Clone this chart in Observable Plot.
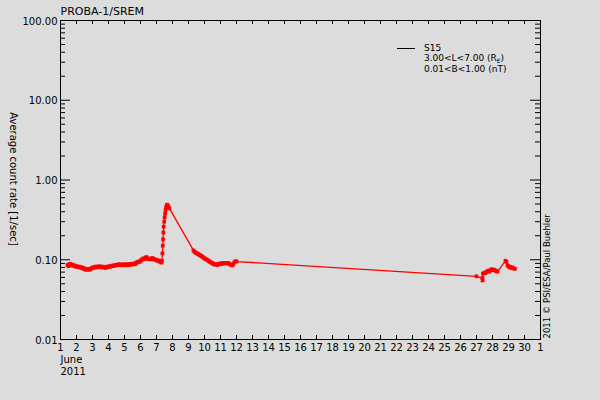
<!DOCTYPE html>
<html>
<head>
<meta charset="utf-8">
<script src="https://cdn.jsdelivr.net/npm/d3@7"></script>
<script src="https://cdn.jsdelivr.net/npm/@observablehq/plot@0.6"></script>
<style>
  html, body { margin: 0; padding: 0; background: #dcdcdc; }
  svg { display: block; }
</style>
</head>
<body>
<div id="chart"></div>
<script>
// Day of June 2011 (fractional) and average count rate [1/sec]
const days = [
  1.44,1.50,1.56,1.62,1.69,1.75,1.81,1.87,1.94,2.00,2.06,2.12,2.19,2.25,2.31,2.37,2.44,2.50,2.56,2.62,
  2.69,2.75,2.81,2.87,2.94,3.00,3.06,3.12,3.19,3.25,3.31,3.37,3.44,3.50,3.56,3.62,3.69,3.75,3.81,3.87,
  3.94,4.00,4.06,4.12,4.19,4.25,4.31,4.37,4.44,4.50,4.56,4.62,4.69,4.75,4.81,4.87,4.94,5.00,5.06,5.12,
  5.19,5.25,5.31,5.37,5.44,5.50,5.56,5.62,5.69,5.75,5.81,5.87,5.94,6.00,6.06,6.12,6.19,6.25,6.31,6.37,
  6.44,6.50,6.56,6.62,6.69,6.75,6.81,6.87,6.94,7.00,7.06,7.12,7.19,7.25,7.31,7.34,7.37,7.39,7.41,7.43,
  7.45,7.48,7.51,7.54,7.57,7.60,7.63,7.66,7.70,7.75,7.81,
  9.31,9.37,9.44,9.50,9.56,9.62,9.69,9.75,9.81,9.87,9.94,10.00,10.06,10.12,10.19,10.25,10.31,10.37,10.44,10.50,
  10.56,10.62,10.69,10.75,10.81,10.87,10.94,11.00,11.06,11.12,11.19,11.25,11.31,11.37,11.44,11.50,11.56,11.62,11.69,11.75,
  11.81,11.87,11.94,12.00,
  27.00,27.37,27.38,27.40,27.50,27.56,27.62,27.69,27.75,27.81,27.87,27.94,28.00,28.06,28.12,28.19,28.25,28.31,
  28.81,28.87,28.94,29.00,29.06,29.12,29.19,29.25,29.31,29.40
];
const rates = [
  0.086,0.083,0.088,0.089,0.085,0.087,0.084,0.085,0.082,0.083,0.081,0.082,0.080,0.081,0.079,0.080,0.077,0.078,0.075,0.076,
  0.075,0.077,0.075,0.076,0.078,0.080,0.079,0.081,0.082,0.080,0.082,0.081,0.083,0.081,0.080,0.082,0.080,0.081,0.079,0.080,
  0.082,0.081,0.083,0.082,0.084,0.083,0.085,0.084,0.086,0.085,0.087,0.086,0.088,0.087,0.085,0.087,0.086,0.088,0.085,0.086,
  0.088,0.087,0.086,0.088,0.089,0.087,0.089,0.090,0.088,0.092,0.093,0.095,0.094,0.097,0.099,0.102,0.104,0.102,0.106,0.108,
  0.104,0.102,0.103,0.101,0.104,0.105,0.102,0.100,0.101,0.099,0.097,0.098,0.095,0.094,0.092,0.097,0.12,0.15,0.18,0.22,
  0.26,0.30,0.34,0.38,0.42,0.45,0.47,0.49,0.48,0.46,0.44,
  0.131,0.126,0.123,0.121,0.119,0.117,0.115,0.113,0.111,0.109,0.106,0.104,0.102,0.101,0.099,0.097,0.095,0.093,0.092,0.090,
  0.089,0.087,0.088,0.087,0.086,0.088,0.089,0.090,0.088,0.091,0.090,0.091,0.090,0.091,0.090,0.091,0.088,0.087,0.085,0.086,
  0.089,0.093,0.096,0.095,
  0.062,0.059,0.055,0.067,0.069,0.068,0.070,0.072,0.073,0.071,0.074,0.076,0.075,0.074,0.075,0.073,0.072,0.071,
  0.097,0.094,0.085,0.083,0.080,0.081,0.079,0.080,0.078,0.077
];

const xTickDays = d3.range(1, 32);
const xTickLabels = [...d3.range(1, 31).map(String), "1"];
const yTicks = [0.01, 0.1, 1, 10, 100];
const yTickLabels = ["0.01", "0.10", "1.00", "10.00", "100.00"];
const yMinorTicks = [0.01, 0.1, 1, 10].flatMap(e => d3.range(2, 10).map(k => k * e));

const title = "PROBA-1/SREM";
const yTitle = "Average count rate [1/sec]";
const credit = "2011 \u00a9 PSI/ESA/Paul Buehler";
const monthLabel = "June";
const yearLabel = "2011";
const legendSeries = "S15";

const data = days.map((d, i) => ({day: d, rate: rates[i]}));

const innerH = 400 - 20 - 61;
const innerW = 600 - 60 - 60;

const svg = Plot.plot({
  width: 600,
  height: 400,
  marginLeft: 60,
  marginRight: 60,
  marginTop: 20,
  marginBottom: 61,
  style: {background: "#dcdcdc", fontFamily: "DejaVu Sans", fontSize: "10px", color: "black"},
  x: {domain: [1, 31], axis: null},
  y: {type: "log", domain: [0.01, 100], axis: null},
  marks: [
    Plot.frame({stroke: "black", strokeWidth: 1}),
    // x ticks bottom and top (inward)
    Plot.tickX(xTickDays, {x: d => d, insetTop: innerH - 4, stroke: "black"}),
    Plot.tickX(xTickDays, {x: d => d, insetBottom: innerH - 4, stroke: "black"}),
    // y major ticks left and right
    Plot.tickY(yTicks, {y: d => d, insetRight: innerW - 10, stroke: "black"}),
    Plot.tickY(yTicks, {y: d => d, insetLeft: innerW - 10, stroke: "black"}),
    // y minor ticks
    Plot.tickY(yMinorTicks, {y: d => d, insetRight: innerW - 5, stroke: "black"}),
    Plot.tickY(yMinorTicks, {y: d => d, insetLeft: innerW - 5, stroke: "black"}),
    // tick labels
    Plot.axisX({ticks: xTickDays, tickFormat: d => xTickLabels[d - 1], tickSize: 0, tickPadding: 4, fill: "black", fontSize: 10, label: null}),
    Plot.axisY({ticks: yTicks, tickFormat: d => yTickLabels[yTicks.indexOf(d)], tickSize: 0, tickPadding: 3, fill: "black", fontSize: 10, dy: 1, label: null}),
    // data
    Plot.line(data, {x: "day", y: "rate", stroke: "red", strokeWidth: 1.3}),
    Plot.dot(data, {x: "day", y: "rate", symbol: "square", r: 2.1, fill: "red", stroke: "none"}),
    // texts
    Plot.text([title], {frameAnchor: "top-left", textAnchor: "start", lineAnchor: "middle", dy: -9.5, fontSize: 11, fill: "black"}),
    Plot.text([monthLabel], {frameAnchor: "bottom-left", textAnchor: "start", lineAnchor: "middle", dy: 20, fontSize: 10, fill: "black"}),
    Plot.text([yearLabel], {frameAnchor: "bottom-left", textAnchor: "start", lineAnchor: "middle", dy: 32.5, fontSize: 10, fill: "black"}),
    Plot.text([yTitle], {frameAnchor: "left", rotate: 90, textAnchor: "middle", lineAnchor: "middle", dx: -47, dy: -1, fontSize: 10, fill: "black"}),
    Plot.text([credit], {frameAnchor: "bottom-right", rotate: -90, textAnchor: "start", lineAnchor: "middle", dx: 7, dy: -1, fontSize: 8.5, fill: "black"})
  ]
});

// Legend
const g = d3.select(svg).append("g")
  .attr("font-family", "DejaVu Sans").attr("font-size", 9)
  .attr("fill", "black").attr("text-anchor", "start");
g.append("line").attr("x1", 397).attr("x2", 415).attr("y1", 48.5).attr("y2", 48.5).attr("stroke", "black").attr("stroke-width", 1);
g.append("text").attr("x", 424).attr("y", 51).text(legendSeries);
const t2 = g.append("text").attr("x", 424).attr("y", 61);
t2.append("tspan").text("3.00<L<7.00 (R");
t2.append("tspan").attr("font-size", 6).attr("dy", 1.5).text("E");
t2.append("tspan").attr("dy", -1.5).text(")");
g.append("text").attr("x", 424).attr("y", 71.5).text("0.01<B<1.00 (nT)");

document.getElementById("chart").appendChild(svg);
</script>
</body>
</html>
